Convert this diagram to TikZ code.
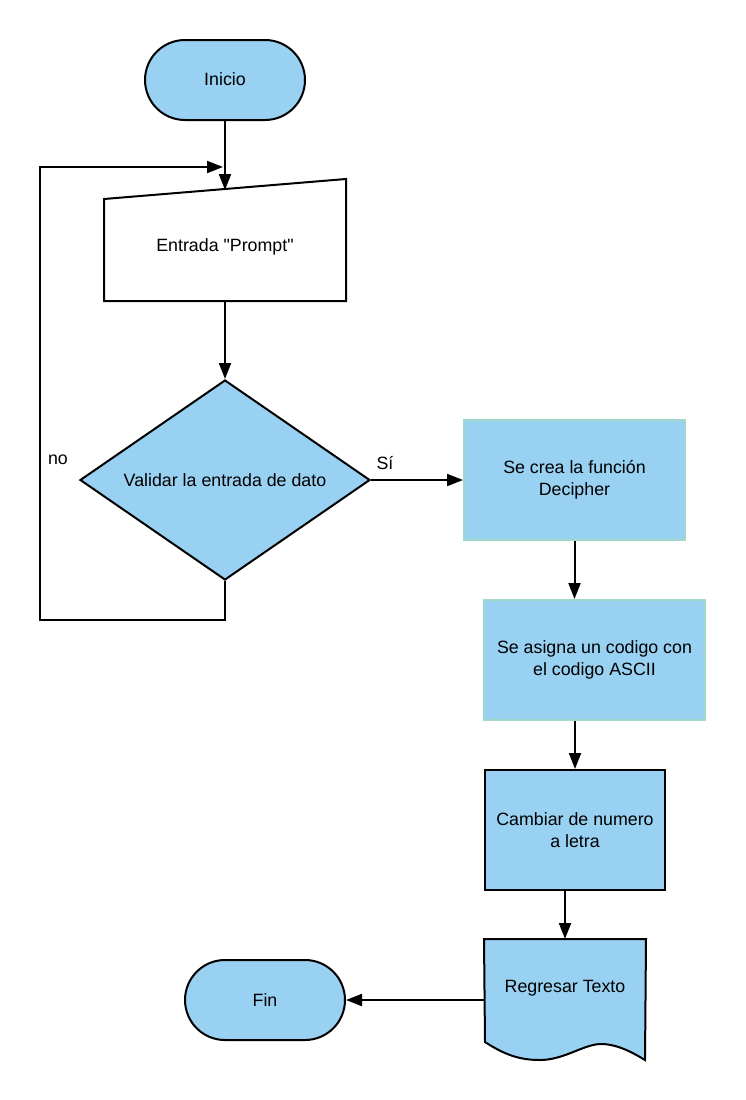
\documentclass[tikz,border=0pt]{standalone}
\usepackage{fontspec}
\setmainfont{Liberation Sans}
\newfontfamily\rawf{Liberation Sans}[Ligatures=ResetAll]
\usetikzlibrary{arrows.meta,shapes.misc,shapes.geometric,calc}
\definecolor{fillb}{RGB}{153,209,242}
\definecolor{greenb}{RGB}{163,217,203}
\begin{document}
\begin{tikzpicture}[x=1pt,y=-1pt,line width=2pt,
  every node/.style={font=\fontsize{17.8}{22}\selectfont},
  arr/.style={-{Triangle[length=16pt,width=12pt]},line width=2pt},
  term/.style={rounded rectangle,draw,fill=fillb,minimum width=160pt,minimum height=80pt,inner sep=0pt},
  procg/.style={rectangle,draw=greenb,fill=fillb,minimum width=221pt,minimum height=120pt,align=center,inner sep=2pt},
  procb/.style={rectangle,draw,fill=fillb,minimum width=180pt,minimum height=120pt,align=center,inner sep=2pt},
  decis/.style={diamond,draw,fill=fillb,minimum width=290pt,minimum height=200pt,aspect=1.45,inner sep=0pt},
  lbl/.style={inner sep=0pt}]
\useasboundingbox (0,0) rectangle (745,1100);

\node[term] (inicio) at (225,80) {\raisebox{2pt}{Inicio}};

\node[minimum width=240pt,minimum height=100pt,inner sep=0pt] (entrada) at (225,250) {};
\draw[fill=white] (entrada.south west) -- (entrada.south east) -- ($(entrada.north east)+(0,-20)$) -- (entrada.north west) -- cycle;
\node[lbl] (entext) at (225,247) {\rawf Entrada "Prompt"};
\coordinate (entop) at (225,190);

\node[decis] (valid) at (225,480) {Validar la entrada de dato};

\node[procg] (crea) at (574.5,480) {Se crea la función\\Decipher};
\node[procg] (asigna) at (594.5,660) {Se asigna un codigo con\\el codigo ASCII};
\node[procb] (cambiar) at (575,830) {Cambiar de numero\\a letra};

\node[minimum width=160pt,minimum height=120pt,inner sep=0pt] (doc) at (565,1000) {};
\draw[fill=fillb] (doc.north west) -- (doc.north east) -- (645,1060)
  .. controls (635,1054) and (620,1045) .. (603,1044)
  .. controls (585,1043) and (565,1060) .. (540,1060)
  .. controls (520,1060) and (505,1055) .. (485,1042) -- cycle;
\node[lbl] (doctext) at (565,988) {Regresar Texto};

\node[term] (fin) at (265,1000) {Fin};

\node[lbl] (nolbl) at (58,460) {no};
\node[lbl] (silbl) at (385,463) {Sí};

\coordinate (loopend) at (223,167);
\coordinate (loopcorner) at (40,620);

\draw[arr] (inicio.south) -- (entop);
\draw[arr] (entrada.south) -- (valid.north);
\draw[arr] (valid.south) -- (valid.south |- loopcorner) -- (loopcorner) |- (loopend);
\draw[arr] (valid.east) -- (crea.west);
\draw[arr] (crea.south) -- (crea.south |- asigna.north);
\draw[arr] (cambiar.north |- asigna.south) -- (cambiar.north);
\draw[arr] (doc.north |- cambiar.south) -- (doc.north);
\draw[arr] (doc.west) -- (fin.east);
\end{tikzpicture}
\end{document}
